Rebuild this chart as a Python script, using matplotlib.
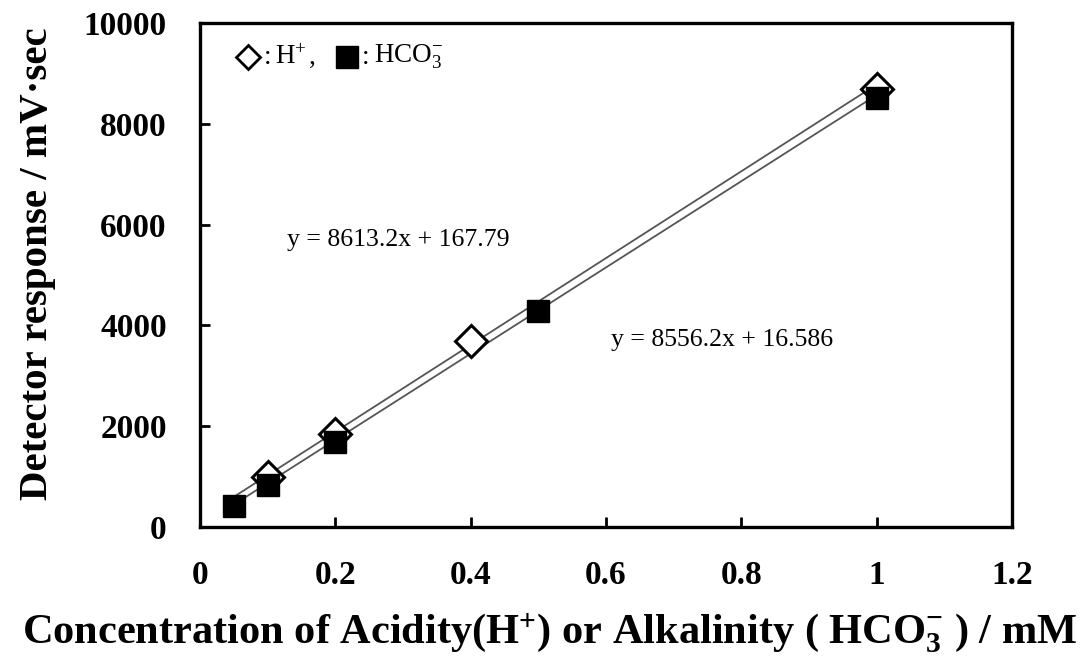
import matplotlib
matplotlib.use("Agg")
import matplotlib.pyplot as plt
import numpy as np
from matplotlib.ticker import FuncFormatter

plt.rcParams["font.family"] = ["Liberation Serif", "DejaVu Serif"]
plt.rcParams["mathtext.fontset"] = "custom"
plt.rcParams["mathtext.rm"] = "Liberation Serif"
plt.rcParams["mathtext.bf"] = "Liberation Serif:bold"
plt.rcParams["mathtext.it"] = "Liberation Serif:italic"

# Acidity (H+) standards
h_conc = [0.1, 0.2, 0.4, 1.0]
h_resp = [1000, 1850, 3700, 8700]
# Alkalinity (HCO3-) standards
hco3_conc = [0.05, 0.1, 0.2, 0.5, 1.0]
hco3_resp = [420, 840, 1690, 4280, 8520]

# Linear fits (slope, intercept)
h_fit = (8613.2, 167.79)
hco3_fit = (8556.2, 16.586)
fit_range = [0.05, 1.0]

x_ticks = [0, 0.2, 0.4, 0.6, 0.8, 1.0, 1.2]
y_ticks = [0, 2000, 4000, 6000, 8000, 10000]

fig = plt.figure(figsize=(10.86, 6.57), dpi=100)
ax = fig.add_axes([0.1842, 0.1979, 0.7477, 0.7671])

xf = np.array(fit_range)
ax.plot(xf, h_fit[0] * xf + h_fit[1], color="#555555", lw=1.3, zorder=2)
ax.plot(xf, hco3_fit[0] * xf + hco3_fit[1], color="#555555", lw=1.3, zorder=2)

ax.plot(h_conc, h_resp, linestyle="none", marker="D", ms=16.5,
        markerfacecolor="white", markeredgecolor="black", mew=2.2, zorder=3)
ax.plot(hco3_conc, hco3_resp, linestyle="none", marker="s", ms=16,
        markerfacecolor="black", markeredgecolor="black", mew=1, zorder=4)

ax.set_xlim(0, 1.2)
ax.set_ylim(0, 10000)
ax.set_xticks(x_ticks)
ax.set_yticks(y_ticks)
ax.xaxis.set_major_formatter(FuncFormatter(lambda v, p: f"{v:g}"))
ax.tick_params(direction="in", length=7, width=2, labelsize=24)
ax.tick_params(axis="x", pad=24)
ax.tick_params(axis="y", pad=24)
for lab in ax.get_xticklabels() + ax.get_yticklabels():
    lab.set_fontweight("bold")
for sp in ax.spines.values():
    sp.set_linewidth(2.4)

ax.set_xlabel(r"Concentration of Acidity(H$^{\mathbf{+}}$) or Alkalinity ( HCO$_{\mathbf{3}}^{\mathbf{-}}$ ) / mM",
              fontsize=30.5, fontweight="bold")
ax.set_ylabel("Detector response / mV\u00b7sec", fontsize=29.5, fontweight="bold")
ax.xaxis.set_label_coords(0.431, -0.168)
ax.yaxis.set_label_coords(-0.178, 0.523)

# Fit equations
ax.text(0.1286, 5694, f"y = {h_fit[0]}x + {h_fit[1]}", fontsize=18.5, va="center", ha="left")
ax.text(0.6074, 3710, f"y = {hco3_fit[0]}x + {hco3_fit[1]}", fontsize=18.5, va="center", ha="left")

# Marker key
key_y = 9325
ax.plot([0.0709], [key_y], marker="D", ms=12, markerfacecolor="white",
        markeredgecolor="black", mew=2, linestyle="none")
ax.text(0.0946, key_y, ":", fontsize=19.5, va="center", ha="left")
ax.text(0.1108, key_y, r"H$^{+}$", fontsize=19.5, va="center", ha="left")
ax.text(0.161, key_y, ",", fontsize=19.5, va="center", ha="left")
ax.plot([0.2165], [key_y], marker="s", ms=16, markerfacecolor="black",
        markeredgecolor="black", linestyle="none")
ax.text(0.2394, key_y, ":", fontsize=19.5, va="center", ha="left")
ax.text(0.2571, key_y, r"HCO$_{3}^{-}$", fontsize=19.5, va="center", ha="left")

fig.savefig("out.png", dpi=100)
